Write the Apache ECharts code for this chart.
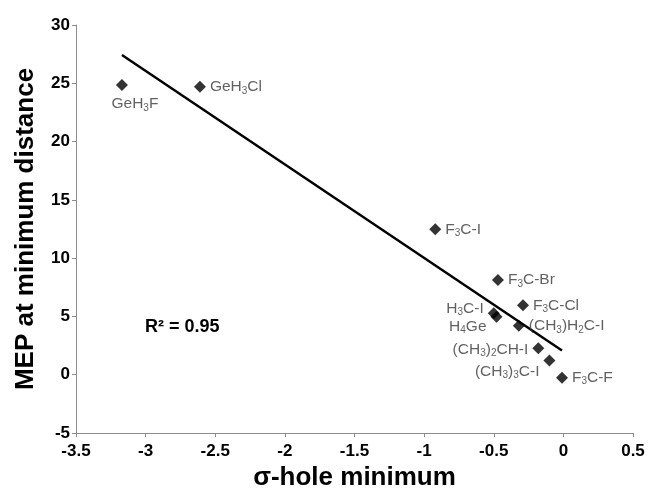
<!DOCTYPE html>
<html>
<head>
<meta charset="utf-8">
<script src="https://cdn.jsdelivr.net/npm/echarts@6/dist/echarts.min.js"></script>
<style>
	html, body { margin: 0; padding: 0; background: #fff; }
	#main { width: 649px; height: 488px; }
</style>
</head>
<body>
<div id="main"></div>
<script>
// values
var names = ['GeH₃F', 'GeH₃Cl', 'F₃C-I', 'F₃C-Br', 'F₃C-Cl', 'H₃C-I', 'H₄Ge',
	'(CH₃)H₂C-I', '(CH₃)₂CH-I', '(CH₃)₃C-I', 'F₃C-F'];
var sigmaHole = [-3.17, -2.61, -0.92, -0.47, -0.29, -0.50, -0.48, -0.32, -0.18, -0.10, -0.01];
var mepValues = [24.85, 24.7, 12.48, 8.13, 5.96, 5.27, 4.98, 4.2, 2.27, 1.21, -0.25];

// linear fit drawn in the figure (R² = 0.95)
var fitX = [-3.17, -0.01];
var fitY = [27.43, 2.07];

// where each label sits relative to its marker
var labelPlace = {
	'GeH₃F': { position: 'bottom', offset: [13, 0] },
	'H₃C-I': { position: 'left', offset: [0, -5] },
	'H₄Ge': { position: 'left', offset: [0, 10] },
	'(CH₃)₂CH-I': { position: 'left', offset: [0, 1] },
	'(CH₃)₃C-I': { position: 'left', offset: [0, 11] }
};

var font = 'Liberation Sans, Arial, Helvetica, sans-serif';

function toRich(s) {
	return s.replace(/[\u2080-\u2089]/g, function(c) {
		return '{s|' + (c.charCodeAt(0) - 0x2080) + '}';
	});
}

function buildPoints() {
	var pts = [];
	for (var i = 0; i < names.length; i++) {
		var p = labelPlace[names[i]] || { position: 'right', offset: [0, 0] };
		pts.push({
			name: names[i],
			value: [sigmaHole[i], mepValues[i]],
			label: { position: p.position, offset: p.offset }
		});
	}
	return pts;
}

var fitData = [];
for (var k = 0; k < fitX.length; k++) {
	fitData.push([fitX[k], fitY[k]]);
}

var myChart = echarts.init(document.getElementById('main'));
var option = {
	backgroundColor: '#ffffff',
	animation: false,
	textStyle: { fontFamily: font },
	grid: { left: 76, right: 16, top: 25, bottom: 55, containLabel: false, outerBoundsMode: 'none' },
	xAxis: {
		type: 'value',
		min: -3.5,
		max: 0.5,
		interval: 0.5,
		name: 'σ-hole minimum',
		nameLocation: 'middle',
		nameGap: 21,
		nameTextStyle: { fontSize: 26, fontWeight: 'bold', color: '#000', fontFamily: font },
		axisLine: { onZero: false, lineStyle: { color: '#8c8c8c', width: 1 } },
		axisTick: { show: true, length: 4, lineStyle: { color: '#8c8c8c' } },
		axisLabel: { fontSize: 17, fontWeight: 'bold', color: '#000', margin: 10, fontFamily: font },
		splitLine: { show: false }
	},
	yAxis: {
		type: 'value',
		min: -5,
		max: 30,
		interval: 5,
		name: 'MEP at minimum distance',
		nameLocation: 'middle',
		nameGap: 37,
		nameTextStyle: { fontSize: 26, fontWeight: 'bold', color: '#000', fontFamily: font },
		axisLine: { show: true, onZero: false, lineStyle: { color: '#8c8c8c', width: 1 } },
		axisTick: { show: true, length: 4, lineStyle: { color: '#8c8c8c' } },
		axisLabel: { fontSize: 17, fontWeight: 'bold', color: '#000', margin: 6, fontFamily: font },
		splitLine: { show: false }
	},
	graphic: [{
		type: 'text',
		left: 145,
		top: 318,
		style: {
			text: 'R² = 0.95',
			font: 'bold 18px ' + font,
			fill: '#000'
		}
	}],
	series: [{
		name: 'fit',
		type: 'line',
		data: fitData,
		showSymbol: false,
		silent: true,
		lineStyle: { color: '#000', width: 2.5 },
		z: 2
	}, {
		name: 'points',
		type: 'scatter',
		symbol: 'diamond',
		symbolSize: 12,
		itemStyle: { color: '#000' },
		data: buildPoints(),
		label: {
			show: true,
			distance: 4,
			fontSize: 15.5,
			lineHeight: 18,
			color: '#3a3a3a',
			fontFamily: font,
			formatter: function(p) { return toRich(p.name); },
			rich: {
				s: { fontSize: 10, lineHeight: 10, verticalAlign: 'bottom', color: '#3a3a3a', fontFamily: font }
			}
		},
		z: 3
	}]
};
myChart.setOption(option, true);
</script>
</body>
</html>
